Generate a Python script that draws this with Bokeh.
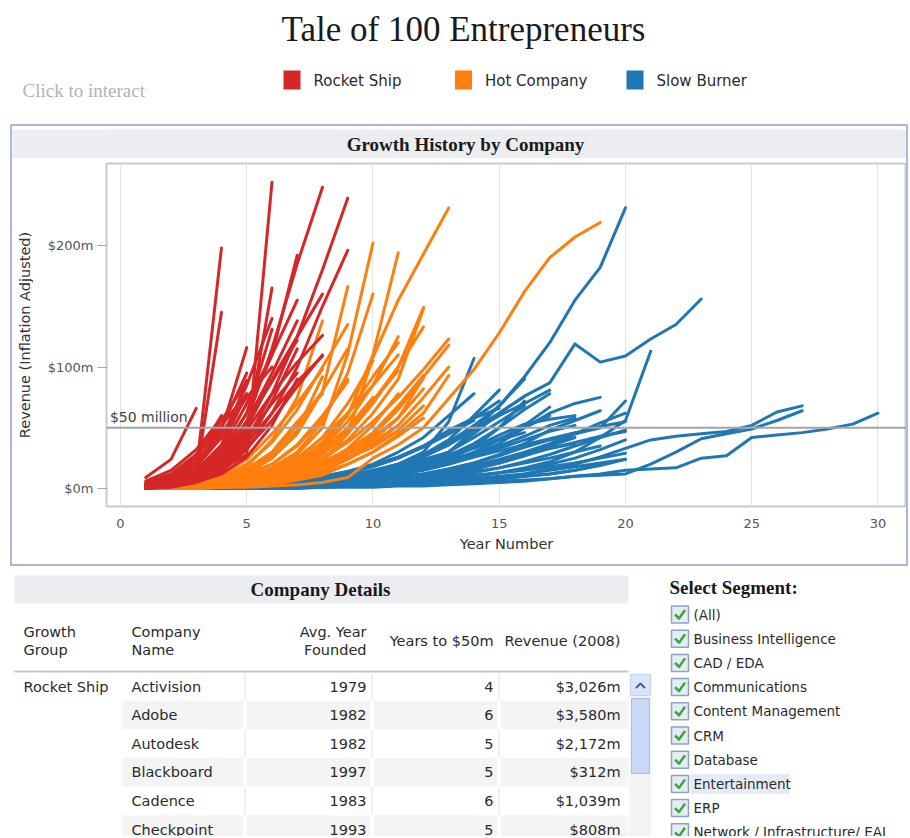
from bokeh.plotting import figure
from bokeh.models import Range1d, FixedTicker, Span, Label, Spacer
from bokeh.layouts import column, row
from bokeh.embed import file_html
from bokeh.resources import INLINE
from bokeh.core.properties import value

# ---------------- data ----------------
TITLE = "Tale of 100 Entrepreneurs"
GROUPS = ["Rocket Ship", "Hot Company", "Slow Burner"]
GROUP_COLORS = ["#d62728", "#ff7f0e", "#1f77b4"]

# revenue ($m, inflation adjusted) for year 1, 2, 3, ... of each company
rocket_ship = [
    [9, 24, 66],
    [2, 6, 14, 198],
    [1, 4, 11, 145],
    [1, 3, 8, 16, 28, 252],
    [1, 4, 10, 24, 55, 115, 185, 248],
    [1, 3, 8, 18, 40, 78, 125, 180, 239],
    [0, 2, 6, 14, 32, 62, 100, 150, 196],
    [2, 5, 12, 28, 62, 110, 192],
    [1, 4, 10, 22, 45, 165],
    [3, 8, 20, 48, 116],
    [2, 6, 15, 36, 89],
    [1, 3, 9, 22, 48, 78, 104, 126],
    [0, 2, 7, 18, 38, 62, 88, 109],
    [2, 5, 14, 32, 70, 110, 155],
    [1, 4, 11, 26, 55, 95, 138],
    [3, 7, 18, 42, 85, 140],
    [1, 5, 13, 30, 62, 131],
    [2, 6, 15, 35, 78],
    [4, 10, 25, 60],
    [1, 4, 12, 28, 55, 88, 122],
    [1, 3, 10, 24, 50, 90, 125, 160],
    [5, 12, 28, 56, 88],
    [2, 7, 19, 45, 75, 100],
    [3, 9, 22, 50, 95],
    [0, 2, 6, 15, 35, 72, 115],
    [6, 15, 32, 58],
    [2, 4, 9, 20, 42, 70, 95],
    [1, 3, 7, 16, 33, 56, 84, 110],
    [4, 11, 27, 52, 78],
    [0, 1, 5, 12, 26, 52, 90],
]

hot_company = [
    [0, 1, 2, 4, 8, 15, 28, 50, 111, 202],
    [0, 1, 2, 3, 6, 11, 20, 35, 60, 110, 194],
    [0, 1, 3, 6, 12, 25, 45, 80, 166],
    [1, 2, 4, 9, 18, 40, 75, 138],
    [0, 1, 2, 3, 5, 9, 16, 28, 45, 70, 100, 149],
    [0, 0, 1, 3, 5, 10, 18, 30, 48, 72, 100, 133],
    [0, 1, 1, 2, 4, 8, 14, 24, 38, 55, 75, 98, 123],
    [0, 0, 1, 2, 4, 7, 12, 22, 45, 108, 155, 193, 231],
    [0, 1, 2, 4, 7, 12, 20, 32, 50, 72, 97],
    [0, 0, 1, 2, 4, 6, 10, 16, 28, 40, 58, 91],
    [0, 0, 0, 1, 1, 2, 3, 5, 9, 25, 36, 50, 74, 98, 128, 162, 190, 207, 219],
    [1, 2, 4, 7, 13, 25, 48, 92],
    [0, 1, 2, 5, 9, 17, 30, 55, 95, 160],
    [0, 1, 1, 3, 6, 11, 20, 34, 55, 85, 125],
    [0, 0, 1, 2, 3, 6, 10, 17, 28, 44, 65, 92, 118],
    [1, 2, 3, 6, 11, 20, 35, 58, 90],
    [0, 1, 2, 4, 7, 13, 24, 42, 70, 105],
    [0, 0, 1, 2, 4, 7, 12, 20, 33, 52, 78],
    [1, 2, 4, 8, 15, 28, 52, 80, 115],
    [0, 1, 2, 3, 6, 10, 18, 30, 50, 75],
    [0, 0, 1, 2, 3, 5, 9, 18, 30, 42, 58, 82],
    [1, 2, 5, 10, 20, 38, 65, 100, 135],
    [0, 1, 1, 2, 4, 7, 12, 22, 32, 46, 68, 93],
    [0, 1, 3, 6, 11, 20, 36, 60, 88],
    [0, 0, 1, 1, 2, 4, 7, 14, 25, 34, 48, 68],
    [1, 3, 6, 12, 24, 45, 70, 98],
    [0, 1, 2, 3, 5, 9, 15, 25, 40, 62, 90, 148],
    [0, 0, 1, 2, 3, 5, 8, 14, 24, 36, 52, 75, 100],
    [0, 1, 2, 4, 8, 14, 25, 42, 62, 85, 110],
    [0, 0, 0, 1, 2, 4, 7, 11, 20, 30, 45, 62, 93],
    [1, 2, 4, 8, 16, 30, 55, 78],
    [0, 1, 2, 3, 6, 12, 22, 38, 62, 92, 120],
    [0, 0, 1, 2, 3, 5, 8, 13, 20, 30, 43, 58],
    [0, 1, 1, 2, 4, 6, 10, 16, 25, 38, 52],
]

slow_burner = [
    [0, 0, 1, 1, 2, 3, 4, 6, 9, 13, 18, 24, 30, 48, 68, 92, 120, 155, 182, 231],
    [0, 0, 0, 1, 1, 2, 3, 4, 6, 9, 14, 20, 30, 45, 62, 76, 87, 119, 104, 109, 123, 135, 156],
    [0, 0, 0, 0, 1, 1, 2, 2, 3, 4, 5, 6, 8, 10, 13, 17, 22, 30, 42, 56, 113],
    [0, 0, 0, 0, 1, 1, 1, 2, 2, 3, 3, 4, 5, 7, 9, 12, 16, 20, 26, 33, 40, 43, 45, 47, 52, 63, 68],
    [0, 0, 0, 0, 0, 1, 1, 1, 2, 2, 3, 3, 4, 5, 6, 7, 8, 10, 11, 12, 20, 30, 41, 45, 49, 56, 64],
    [0, 0, 0, 0, 0, 0, 0, 1, 1, 1, 2, 2, 3, 4, 5, 6, 8, 10, 12, 15, 16, 17, 25, 27, 42, 44, 46, 49, 53, 62],
    [0, 0, 1, 1, 2, 3, 4, 5, 7, 9, 12, 16, 21, 28, 37, 50, 62, 70, 75],
    [0, 0, 0, 1, 1, 2, 2, 3, 4, 5, 7, 9, 12, 16, 21, 27, 35, 45, 50, 72],
    [0, 0, 1, 1, 2, 3, 5, 7, 10, 14, 20, 30, 55, 107],
    [0, 0, 1, 1, 2, 3, 5, 7, 10, 14, 20, 28, 40, 60, 81],
    [0, 1, 1, 2, 3, 4, 6, 8, 11, 15, 20, 27, 36, 48, 60, 70, 81],
    [0, 0, 0, 1, 1, 2, 3, 4, 5, 7, 9, 12, 16, 21, 28, 37, 48, 56, 64],
    [0, 0, 1, 1, 2, 3, 4, 6, 8, 11, 14, 18, 23, 30, 40, 52, 67],
    [0, 0, 1, 2, 3, 5, 7, 10, 14, 20, 30, 42, 60, 78],
    [0, 0, 0, 1, 1, 2, 3, 4, 6, 8, 11, 15, 20, 26, 33, 40, 47, 52],
    [0, 0, 0, 0, 1, 1, 2, 3, 4, 5, 7, 9, 12, 16, 21, 27, 33, 38, 43, 47],
    [0, 0, 1, 1, 2, 3, 4, 5, 7, 10, 13, 17, 24, 34, 50, 72],
    [0, 0, 0, 1, 1, 2, 2, 3, 4, 6, 8, 10, 13, 17, 22, 28, 35, 42],
    [0, 0, 0, 0, 1, 1, 2, 2, 3, 4, 5, 6, 8, 10, 13, 16, 20, 25, 32, 40],
    [0, 0, 1, 1, 2, 3, 4, 6, 9, 13, 19, 27, 38, 52, 68, 90],
    [0, 0, 0, 0, 1, 1, 1, 2, 2, 3, 4, 5, 6, 8, 10, 12, 15, 18, 21, 24],
    [0, 0, 0, 0, 1, 1, 1, 2, 2, 3, 3, 4, 5, 6, 8, 10, 12, 15, 20],
    [0, 1, 1, 2, 3, 4, 5, 7, 9, 12, 16, 22, 30, 42, 55, 68],
    [0, 0, 1, 2, 3, 4, 6, 9, 13, 18, 25, 35, 48, 58, 66],
    [0, 1, 1, 2, 3, 5, 7, 10, 14, 19, 26, 35, 45, 56],
    [0, 0, 1, 1, 2, 3, 5, 7, 10, 14, 19, 26, 36, 50, 62, 76],
    [0, 0, 0, 1, 1, 2, 3, 5, 7, 10, 14, 19, 26, 34, 44, 53, 57, 60],
    [0, 0, 0, 0, 1, 1, 2, 2, 3, 4, 6, 8, 10, 13, 17, 22, 28, 35, 42, 48],
    [0, 0, 1, 1, 1, 2, 3, 4, 5, 7, 9, 12, 16, 21, 27, 34, 40, 45, 51, 55],
    [0, 0, 0, 0, 0, 1, 1, 1, 2, 2, 3, 4, 5, 6, 8, 10, 12, 15, 19, 24],
    [0, 0, 1, 2, 3, 4, 6, 9, 13, 18, 25, 34, 45, 58, 72],
    [0, 0, 0, 1, 2, 3, 4, 6, 8, 11, 15, 20, 27, 37, 50, 65, 78],
    [0, 0, 0, 0, 1, 1, 2, 3, 4, 6, 8, 11, 14, 18, 23, 28, 33, 37],
    [0, 0, 0, 1, 1, 2, 3, 4, 6, 9, 12, 16, 21, 26, 31, 36, 41, 46, 50],
    [0, 0, 0, 0, 0, 1, 1, 2, 3, 4, 5, 7, 9, 11, 13, 15, 18, 21, 25, 29],
    [0, 0, 1, 1, 2, 3, 5, 7, 10, 13, 17, 22, 28, 34, 40, 46],
    [0, 0, 0, 1, 1, 2, 3, 5, 7, 10, 13, 17, 22, 28, 35, 43, 52, 58],
    [0, 0, 0, 0, 1, 1, 2, 3, 4, 5, 7, 9, 11, 14, 17, 21, 25, 30, 35],
    [0, 0, 1, 1, 2, 3, 4, 6, 8, 11, 15, 20, 26, 33, 41, 50, 60],
    [0, 0, 0, 1, 1, 2, 3, 4, 5, 7, 9, 12, 15, 19, 24, 30, 37, 45, 54, 62],
]

year_ticks = [0, 5, 10, 15, 20, 25, 30]
revenue_ticks = [0, 100, 200]
revenue_tick_labels = ["$0m", "$100m", "$200m"]
threshold = 50
threshold_label = "$50 million"

table_headers = [["Growth", "Group"], ["Company", "Name"], ["Avg. Year", "Founded"],
                 ["Years to $50m"], ["Revenue (2008)"]]
growth_group = ["Rocket Ship", "", "", "", "", ""]
company_name = ["Activision", "Adobe", "Autodesk", "Blackboard", "Cadence", "Checkpoint"]
avg_year_founded = [1979, 1982, 1982, 1997, 1983, 1993]
years_to_50m = [4, 6, 5, 5, 6, 5]
revenue_2008 = [3026, 3580, 2172, 312, 1039, 808]

segments = ["(All)", "Business Intelligence", "CAD / EDA", "Communications",
            "Content Management", "CRM", "Database", "Entertainment", "ERP",
            "Network / Infrastructure/ EAI"]
highlighted_segment = "Entertainment"

# ---------------- helpers ----------------
SANS = "DejaVu Sans"
SERIF = "Liberation Serif"
INK = "#2b2b2b"
BAND = "#ebedf0"
BORDER = "#a9b9de"


def canvas(w, h, x0, y0):
    p = figure(width=w, height=h, x_range=Range1d(x0, x0 + w), y_range=Range1d(-(y0 + h), -y0),
               output_backend="svg", toolbar_location=None, title_location=None,
               x_axis_type=None, y_axis_type=None, min_border=0)
    p.outline_line_color = None
    p.background_fill_color = "white"
    p.border_fill_color = "white"
    return p


def txt(p, x, y, s, size, font=SANS, color=INK, align="left", style="normal"):
    p.text(x=[x], y=[-y], text=[s], text_font=value(font), text_font_size=size,
           text_color=color, text_align=align, text_baseline="middle", text_font_style=style)


def box(p, l, r, t, b, fill, line=None, lw=1):
    p.quad(left=[l], right=[r], top=[-t], bottom=[-b], fill_color=fill,
           line_color=line, line_width=lw)


def bar(w, h, color=None):
    return Spacer(width=w, height=h, styles={"background-color": color or "white"})


# ---------------- header ----------------
header = canvas(908, 122, 0, 0)
txt(header, 463, 29, TITLE, "35px", SERIF, "#1a1a1a", "center")
txt(header, 22, 90, "Click to interact", "19px", SERIF, "#b3b3b3")
for i, (g, c) in enumerate(zip(GROUPS, GROUP_COLORS)):
    x0 = 283 + 171.5 * i
    box(header, x0, x0 + 17, 70, 89, c)
    txt(header, x0 + 30, 80, g, "15px")

# ---------------- chart ----------------
band = figure(width=894, height=29, x_range=Range1d(106, 906), y_range=Range1d(-158, -129),
              output_backend="svg", toolbar_location=None, title_location=None,
              x_axis_type=None, y_axis_type=None, min_border_left=94, min_border_right=0,
              min_border_top=0, min_border_bottom=0)
band.outline_line_color = None
band.background_fill_color = BAND
band.border_fill_color = BAND
txt(band, 465, 143.5, "Growth History by Company", "19px", SERIF, "#1a1a1a", "center", "bold")

chart = figure(width=894, height=404, x_range=Range1d(-0.554, 31.13),
               y_range=Range1d(-14.8, 267.5), output_backend="svg", toolbar_location=None,
               title_location=None, min_border_left=94, min_border_right=0,
               min_border_top=3, min_border_bottom=58)
chart.background_fill_color = "white"
chart.border_fill_color = "white"
chart.outline_line_color = "#cacaca"
chart.outline_line_width = 2

for series, color in ((slow_burner, GROUP_COLORS[2]), (hot_company, GROUP_COLORS[1]),
                      (rocket_ship, GROUP_COLORS[0])):
    xs = [list(range(1, len(s) + 1)) for s in series]
    chart.multi_line(xs=xs, ys=series, line_color=color, line_width=3,
                     line_join="round", line_cap="round")

chart.add_layout(Span(location=threshold, dimension="width", line_color="#a4a4a4", line_width=2))
chart.add_layout(Label(x=-0.42, y=threshold, y_offset=3, text=threshold_label,
                       text_font=SANS, text_font_size="14px", text_color="#444444",
                       text_baseline="bottom"))

chart.xaxis.ticker = FixedTicker(ticks=year_ticks)
chart.yaxis.ticker = FixedTicker(ticks=revenue_ticks)
chart.yaxis.major_label_overrides = dict(zip(revenue_ticks, revenue_tick_labels))
chart.xaxis.axis_label = "Year Number"
chart.yaxis.axis_label = "Revenue (Inflation Adjusted)"
for ax in (chart.xaxis[0], chart.yaxis[0]):
    ax.axis_line_color = None
    ax.minor_tick_line_color = None
    ax.major_tick_in = 0
    ax.major_label_text_font = SANS
    ax.major_label_text_font_size = "13px"
    ax.major_label_text_color = "#555555"
    ax.axis_label_text_font = SANS
    ax.axis_label_text_font_size = "14.5px"
    ax.axis_label_text_font_style = "normal"
    ax.axis_label_text_color = "#333333"
chart.xaxis.major_tick_out = 0
chart.xaxis.major_tick_line_color = None
chart.xaxis.major_label_standoff = 12
chart.xaxis.axis_label_standoff = 5
chart.yaxis.major_tick_out = 9
chart.yaxis.major_tick_line_color = "#a8a8a8"
chart.yaxis.major_label_standoff = 4
chart.yaxis.axis_label_standoff = 12
chart.xgrid.grid_line_color = "#e4e4e4"
chart.ygrid.grid_line_color = None

inner = column(bar(894, 3), band, bar(894, 2), chart)
mid = row(bar(10, 444),
          column(bar(898, 2), bar(898, 2, BORDER),
                 row(bar(2, 438, BORDER), inner, bar(2, 438, BORDER)),
                 bar(898, 2, BORDER)))

# ---------------- bottom: table + segment filter ----------------
bottom = canvas(908, 270, 0, 566)
box(bottom, 14, 628, 575, 603, BAND)
txt(bottom, 320, 589, "Company Details", "19px", SERIF, "#1a1a1a", "center", "bold")

col_x = [23, 131, 366, 493, 620]
col_align = ["left", "left", "right", "right", "right"]
for hdr, cx, al in zip(table_headers, col_x, col_align):
    if len(hdr) == 2:
        txt(bottom, cx, 631, hdr[0], "14.5px", align=al)
        txt(bottom, cx, 649, hdr[1], "14.5px", align=al)
    else:
        txt(bottom, cx, 640, hdr[0], "14.5px", align=al)
bottom.line(x=[14, 628], y=[-671, -671], line_color="#c6c6c6", line_width=2)

cells = [(122, 243), (246, 370), (373, 497), (500, 628)]
for i in range(len(company_name)):
    ry = 686 + 28.6 * i
    if i % 2 == 1:
        for l, r in cells:
            box(bottom, l, r, ry - 14.3, ry + 14.3, "#f4f4f4")
    else:
        for l, r in cells[:-1]:
            bottom.line(x=[r + 1.5, r + 1.5], y=[-(ry - 14), -(ry + 14)],
                        line_color="#f1f1f1", line_width=2)
    txt(bottom, col_x[0], ry, growth_group[i], "14.5px")
    txt(bottom, col_x[1], ry, company_name[i], "14.5px")
    txt(bottom, col_x[2], ry, str(avg_year_founded[i]), "14.5px", align="right")
    txt(bottom, col_x[3], ry, str(years_to_50m[i]), "14.5px", align="right")
    txt(bottom, col_x[4], ry, "${:,}m".format(revenue_2008[i]), "14.5px", align="right")

# scrollbar
box(bottom, 629, 651, 673, 836, "#f4f4f4")
box(bottom, 630, 650, 674, 695, "#d9e4f6", "#c3d2ee")
bottom.line(x=[635.5, 640, 644.5], y=[-687.5, -683, -687.5], line_color="#4b5b7a", line_width=2)
box(bottom, 631, 649, 698, 773, "#c8d9f6", "#a9bfe9")

# segment filter
txt(bottom, 669, 587, "Select Segment:", "19px", SERIF, "#1a1a1a", "left", "bold")
for i, s in enumerate(segments):
    sy = 614 + 24.2 * i
    if s == highlighted_segment:
        box(bottom, 690, 789, sy - 10, sy + 10, "#e3ebf7")
    box(bottom, 671, 688, sy - 8.5, sy + 8.5, "#e4ecf4", "#8ea3bd", 1.5)
    bottom.line(x=[674.5, 678.5, 684.5], y=[-sy, -(sy + 4), -(sy - 4.5)],
                line_color="#3da43d", line_width=2.5, line_join="round")
    txt(bottom, 693, sy, s, "13.5px")

layout = column(header, mid, bottom)
open("out.html", "w").write(file_html(layout, INLINE))
